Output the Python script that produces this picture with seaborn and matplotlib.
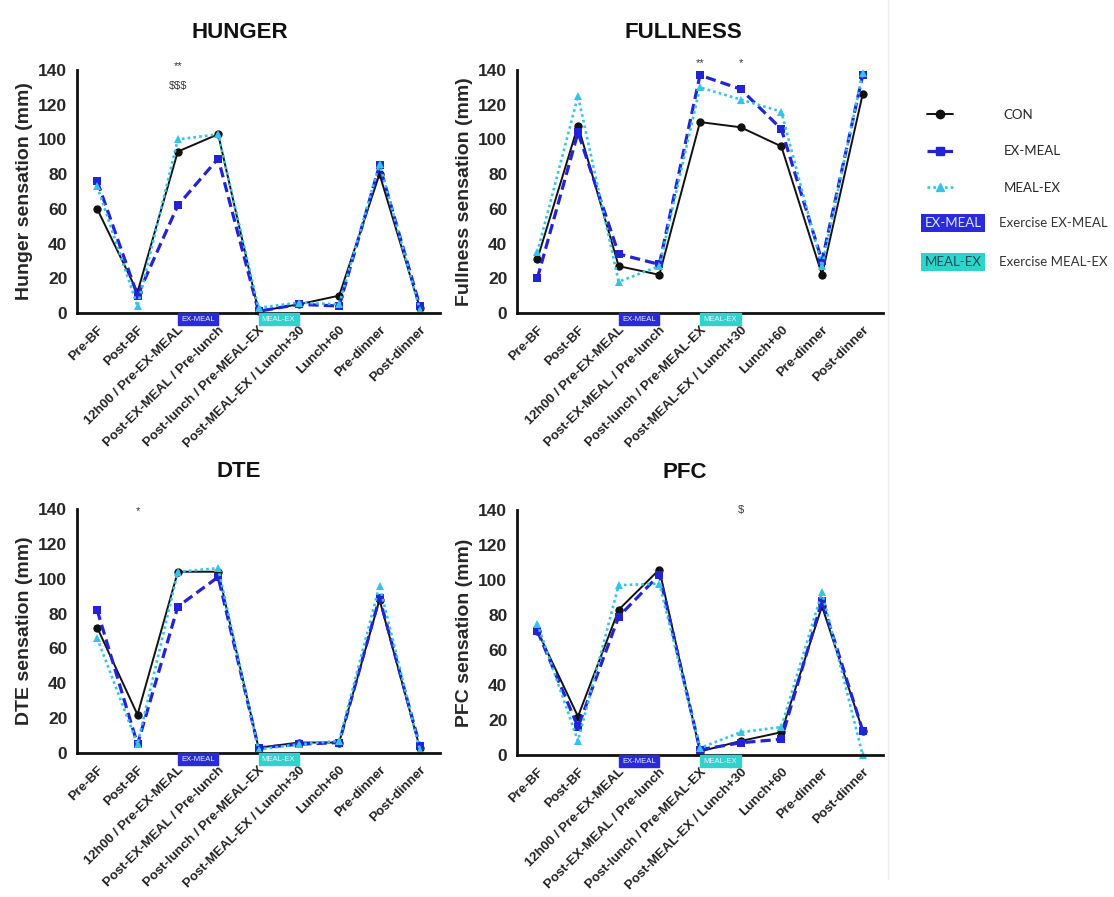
import matplotlib
matplotlib.use("Agg")
import matplotlib.pyplot as plt
import matplotlib.transforms as mtransforms
from matplotlib.lines import Line2D
from matplotlib.patches import Rectangle
import pandas as pd
import seaborn as sns

# time points (x axis) and groups
timepoints = ["Pre-BF", "Post-BF", "12h00 / Pre-EX-MEAL", "Post-EX-MEAL / Pre-lunch",
              "Post-lunch / Pre-MEAL-EX", "Post-MEAL-EX / Lunch+30", "Lunch+60",
              "Pre-dinner", "Post-dinner"]
groups = ["CON", "EX-MEAL", "MEAL-EX"]

# values (mm)
hunger_con = [60, 12, 93, 103, 1, 5, 10, 80, 3]
hunger_exmeal = [76, 10, 62, 89, 1, 5, 4, 85, 4]
hunger_mealex = [73, 4, 100, 103, 3, 6, 5, 86, 2]

fullness_con = [31, 108, 27, 22, 110, 107, 96, 22, 126]
fullness_exmeal = [20, 104, 34, 28, 137, 129, 106, 30, 137]
fullness_mealex = [35, 125, 18, 27, 130, 123, 116, 27, 138]

dte_con = [72, 22, 104, 104, 3, 6, 6, 88, 3]
dte_exmeal = [82, 5, 84, 101, 3, 5, 6, 89, 4]
dte_mealex = [66, 5, 104, 106, 2, 5, 7, 96, 2]

pfc_con = [71, 22, 83, 106, 2, 8, 13, 85, 14]
pfc_exmeal = [71, 16, 79, 103, 3, 7, 9, 88, 14]
pfc_mealex = [75, 8, 97, 98, 4, 13, 16, 93, 0]

# significance marks: (time index, y value, text)
hunger_marks = [(2, 142, "**"), (2, 131, "$$$")]
fullness_marks = [(4, 144, "**"), (5, 144, "*")]
dte_marks = [(1, 139, "*")]
pfc_marks = [(5, 140, "$")]

palette = {"CON": "#111111", "EX-MEAL": "#2323d6", "MEAL-EX": "#35c3ea"}
dashes = {"CON": "", "EX-MEAL": (3.2, 1.6), "MEAL-EX": (1, 1.2)}
markers = {"CON": "o", "EX-MEAL": "s", "MEAL-EX": "^"}
widths = {"CON": 1.4, "EX-MEAL": 2.3, "MEAL-EX": 1.9}
box_exmeal = "#2a2ad8"
box_mealex = "#2fd3cc"

sns.set_style("white")
plt.rcParams["font.family"] = ["Liberation Sans", "DejaVu Sans"]


def draw_panel(ax, ylabel, series, marks):
    rows = []
    for g, vals in zip(groups, series):
        for i, v in enumerate(vals):
            rows.append({"time": i, "value": v, "group": g})
    df = pd.DataFrame(rows)
    sns.lineplot(data=df, x="time", y="value", hue="group", style="group", size="group",
                 hue_order=groups, style_order=groups, size_order=groups,
                 palette=palette, dashes=dashes, markers=markers, sizes=widths,
                 markersize=6, markeredgewidth=0, legend=False, ax=ax)
    for ln in ax.lines:
        ln.set_clip_on(False)

    ax.set_xlim(-0.5, 8.5)
    ax.set_ylim(0, 140)
    ax.set_yticks(range(0, 141, 20))
    ax.set_xticks(range(len(timepoints)))
    ax.set_xticklabels(timepoints, rotation=45, ha="right", rotation_mode="anchor",
                       fontsize=9.5, fontweight="bold", color="#222222")
    for lab in ax.get_yticklabels():
        lab.set_fontweight("bold")
    ax.tick_params(axis="y", labelsize=12.5, width=2, length=5, pad=2)
    ax.tick_params(axis="x", width=2, length=5, pad=3)
    sns.despine(ax=ax)
    for s in ("left", "bottom"):
        ax.spines[s].set_linewidth(2)
        ax.spines[s].set_color("#111111")
    ax.set_xlabel("")
    ax.set_ylabel(ylabel, fontsize=14, fontweight="bold")
    ax.yaxis.set_label_coords(-0.12, 0.5)

    # exercise periods under the x axis
    trans = mtransforms.blended_transform_factory(ax.transData, ax.transAxes)
    for x0, col, txt in [(2, box_exmeal, "EX-MEAL"), (4, box_mealex, "MEAL-EX")]:
        ax.add_patch(Rectangle((x0, -0.05), 1, 0.048, transform=trans, color=col,
                               clip_on=False, zorder=3))
        ax.text(x0 + 0.5, -0.026, txt, transform=trans, ha="center", va="center",
                fontsize=5.5, color="#e8f4ff", zorder=4)

    for xi, yv, txt in marks:
        ax.text(xi, yv, txt, ha="center", va="center", fontsize=8, color="#333333",
                clip_on=False)


fig = plt.figure(figsize=(11.14, 8.97), dpi=100)
W, H = 1114, 897


def add_axes(left, top, right, bottom):
    return fig.add_axes([left / W, 1 - bottom / H, (right - left) / W, (bottom - top) / H])


ax_h = add_axes(77, 70, 440, 313)
ax_f = add_axes(517, 70, 883, 313)
ax_d = add_axes(77, 509, 440, 753)
ax_p = add_axes(517, 510, 883, 755)

draw_panel(ax_h, "Hunger sensation (mm)", [hunger_con, hunger_exmeal, hunger_mealex], hunger_marks)
draw_panel(ax_f, "Fullness sensation (mm)", [fullness_con, fullness_exmeal, fullness_mealex], fullness_marks)
draw_panel(ax_d, "DTE sensation (mm)", [dte_con, dte_exmeal, dte_mealex], dte_marks)
draw_panel(ax_p, "PFC sensation (mm)", [pfc_con, pfc_exmeal, pfc_mealex], pfc_marks)

# panel titles
for x, y, t in [(240, 33, "HUNGER"), (683, 33, "FULLNESS"), (239, 471, "DTE"), (685, 472, "PFC")]:
    fig.text(x / W, 1 - y / H, t, ha="center", va="center", fontsize=16, fontweight="bold",
             color="#111111")

# faint separator
fig.add_artist(Line2D([888 / W, 888 / W], [0.02, 1.0], color="#eeeeee", lw=1))

# legend
handles = [Line2D([], [], color=palette[g], lw=widths[g], marker=markers[g], markersize=6,
                  dashes=dashes[g] if dashes[g] else (None, None)) for g in groups]
for h, g in zip(handles, groups):
    if g == "CON":
        h.set_linestyle("-")
fig.legend(handles, groups, loc="upper left", bbox_to_anchor=(915 / W, 1 - 97 / H),
           frameon=False, fontsize=9.5, handlelength=2.0, handletextpad=3.8,
           labelspacing=1.85, prop={"family": ["Lato", "DejaVu Sans"], "size": 9.5})
for y, col, txt, tc in [(223, box_exmeal, "EX-MEAL", "#dde8ff"), (262, box_mealex, "MEAL-EX", "#1d4f52")]:
    fig.text(953 / W, 1 - y / H, txt, ha="center", va="center", fontsize=9.5,
             color=tc, family=["Lato", "DejaVu Sans"],
             bbox=dict(boxstyle="square,pad=0.25", fc=col, ec="none"))
    fig.text(999 / W, 1 - y / H, "Exercise " + txt, ha="left", va="center", fontsize=9.5,
             color="#333333", family=["Lato", "DejaVu Sans"])

fig.savefig("out.png", dpi=100)
